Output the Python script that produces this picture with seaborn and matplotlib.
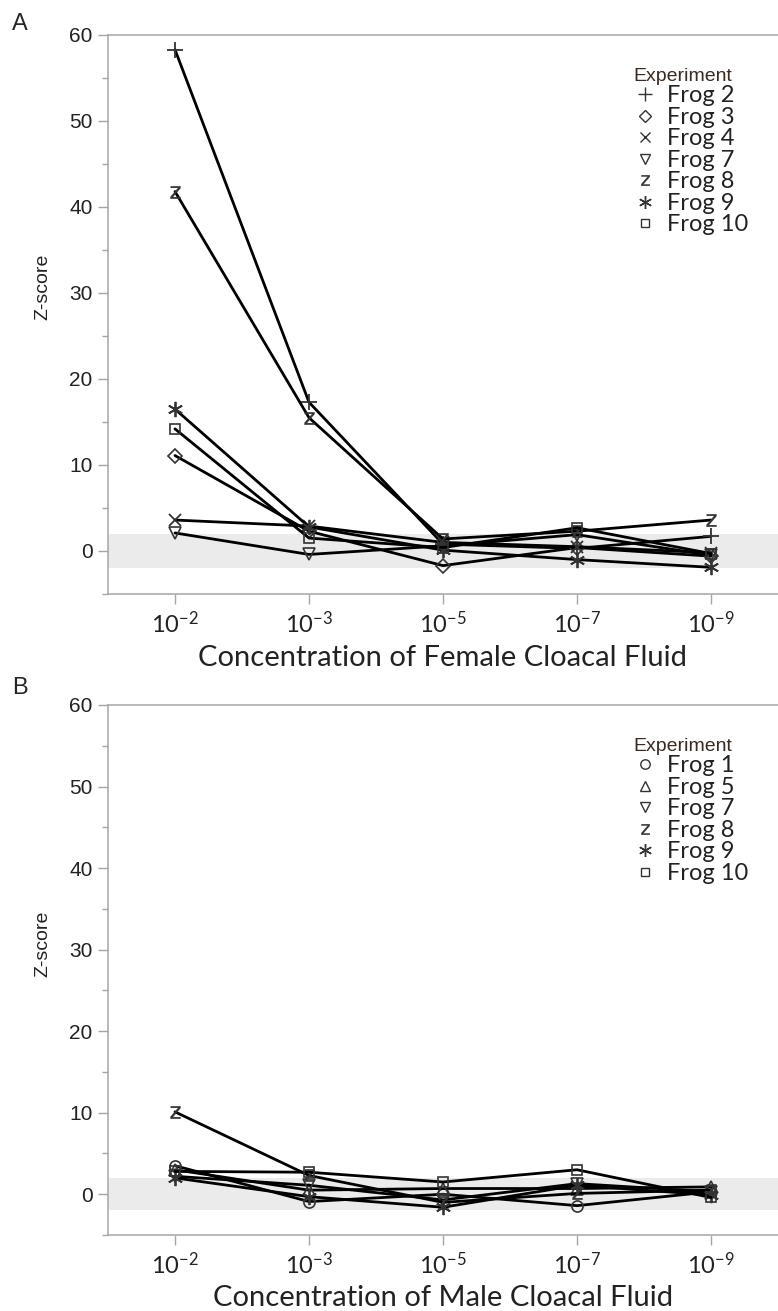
import numpy as np
import pandas as pd
import matplotlib
matplotlib.use("Agg")
import matplotlib.pyplot as plt
from matplotlib.lines import Line2D
from matplotlib.ticker import MultipleLocator
import seaborn as sns

sns.set_style("white")
plt.rcParams['font.family'] = ['Liberation Sans', 'DejaVu Sans']

# ---------------- data ----------------
conc_labels = ["10^{-2}", "10^{-3}", "10^{-5}", "10^{-7}", "10^{-9}"]

female_frogs = ["Frog 2", "Frog 3", "Frog 4", "Frog 7", "Frog 8", "Frog 9", "Frog 10"]
female_frog2 = [58.3, 17.3, 0.8, 0.3, 1.7]
female_frog3 = [11.1, 2.3, -1.7, 0.4, -0.6]
female_frog4 = [3.6, 2.9, 1.0, 0.5, -0.2]
female_frog7 = [2.1, -0.4, 0.6, 1.9, -0.5]
female_frog8 = [41.8, 15.5, 1.4, 2.3, 3.6]
female_frog9 = [16.5, 2.8, 0.1, -1.0, -1.9]
female_frog10 = [14.2, 1.5, 0.4, 2.7, -0.3]
female_values = [female_frog2, female_frog3, female_frog4, female_frog7,
                 female_frog8, female_frog9, female_frog10]

male_frogs = ["Frog 1", "Frog 5", "Frog 7", "Frog 8", "Frog 9", "Frog 10"]
male_frog1 = [3.5, -0.9, 0.0, -1.4, 0.3]
male_frog5 = [3.0, 0.5, 0.7, 0.7, 0.9]
male_frog7 = [2.2, 1.1, -0.7, 1.3, 0.3]
male_frog8 = [10.1, 2.3, -1.0, 0.1, 0.5]
male_frog9 = [2.0, -0.3, -1.6, 1.1, -0.1]
male_frog10 = [2.8, 2.7, 1.5, 3.0, -0.4]
male_values = [male_frog1, male_frog5, male_frog7, male_frog8, male_frog9, male_frog10]

band_limit = 1.96

# ---------------- styles ----------------
marker_map = {
    "Frog 1": "o", "Frog 2": "+", "Frog 3": "D", "Frog 4": "x", "Frog 5": "^",
    "Frog 7": "v", "Frog 8": r"$\mathsf{z}$", "Frog 9": (6, 2, 0), "Frog 10": "s",
}
size_map = {
    "Frog 1": 8, "Frog 2": 12, "Frog 3": 7, "Frog 4": 8, "Frog 5": 8,
    "Frog 7": 8, "Frog 8": 9, "Frog 9": 11, "Frog 10": 7.5,
}
HOLLOW = ("o", "D", "^", "v", "s")
MK = "#333333"
AX_GRAY = "#a6a6a6"
TXT = "#222222"
W, H = 778.0, 1311.0


def long_df(frogs, values):
    rows = []
    for f, vals in zip(frogs, values):
        for i, v in enumerate(vals):
            rows.append({"Experiment": f, "pos": i, "z": v})
    return pd.DataFrame(rows)


def draw_panel(ax, frogs, values, xlabel, labelpad, legend_top_px):
    ax.axhspan(-band_limit, band_limit, color="#ebebeb", zorder=0, lw=0)
    df = long_df(frogs, values)
    for f in frogs:
        sub = df[df["Experiment"] == f]
        m = marker_map[f]
        if m in HOLLOW:
            kw = dict(markerfacecolor="none", markeredgecolor=MK, markeredgewidth=1.2)
        elif isinstance(m, str) and m.startswith("$"):
            kw = dict(markerfacecolor=MK, markeredgecolor=MK, markeredgewidth=0.2)
        else:
            kw = dict(markerfacecolor=MK, markeredgecolor=MK, markeredgewidth=1.3)
        sns.lineplot(data=sub, x="pos", y="z", ax=ax, color="black", lw=2.0,
                     marker=m, markersize=size_map[f], legend=False,
                     errorbar=None, sort=False, **kw)
    ax.set_xlim(-0.5, 4.5)
    ax.set_ylim(-5, 60)
    ax.set_xticks(range(len(conc_labels)))
    ax.set_xticklabels([r"$\mathregular{" + c + "}$" for c in conc_labels],
                       fontsize=17, family="Lato", color=TXT)
    ax.yaxis.set_major_locator(MultipleLocator(10))
    ax.yaxis.set_minor_locator(MultipleLocator(5))
    for lab in ax.get_yticklabels():
        lab.set_fontsize(15)
        lab.set_color(TXT)
    ax.tick_params(axis="both", which="major", direction="out", length=7,
                   width=1, color=AX_GRAY, left=True, bottom=True)
    ax.tick_params(axis="y", which="minor", direction="out", length=4,
                   width=1, color=AX_GRAY, left=True)
    ax.tick_params(axis="x", pad=5)
    ax.tick_params(axis="y", pad=4)
    for s in ["left", "bottom", "top"]:
        ax.spines[s].set_visible(True)
        ax.spines[s].set_color(AX_GRAY)
        ax.spines[s].set_linewidth(1.1)
    ax.spines["right"].set_visible(False)
    ax.set_xlabel(xlabel, fontsize=21, family="Lato", color=TXT,
                  labelpad=labelpad)
    ax.set_ylabel("Z-score", fontsize=14, color=TXT)
    ax.yaxis.set_label_coords(-0.085, 0.55)

    handles = []
    for f in frogs:
        m = marker_map[f]
        fc = "none" if m in HOLLOW else MK
        ms = size_map[f] * 0.85
        handles.append(Line2D([], [], linestyle="none", marker=m, markersize=ms,
                              markerfacecolor=fc, markeredgecolor=MK,
                              markeredgewidth=1.0 if not str(m).startswith("$") else 0.2))
    leg = ax.legend(handles, frogs, title="Experiment", loc="upper left",
                    bbox_to_anchor=(633 / W, 1 - legend_top_px / H),
                    bbox_transform=ax.figure.transFigure, frameon=False,
                    prop={"family": "Lato", "size": 17},
                    title_fontproperties={"family": "Liberation Sans", "size": 14},
                    handlelength=1.0, handletextpad=0.45, labelspacing=0.02,
                    borderaxespad=0, borderpad=0)
    leg._legend_box.align = "left"
    leg.get_title().set_color("#3a2a20")
    for t in leg.get_texts():
        t.set_color(TXT)


fig = plt.figure(figsize=(7.78, 13.11), dpi=100)
left = 108 / W
axA = fig.add_axes([left, 1 - 594 / H, 1 - left, (594 - 35) / H])
axB = fig.add_axes([left, 1 - 1235 / H, 1 - left, (1235 - 705) / H])

draw_panel(axA, female_frogs, female_values,
           "Concentration of Female Cloacal Fluid", 6, 68)
draw_panel(axB, male_frogs, male_values,
           "Concentration of Male Cloacal Fluid", 5, 738)

fig.text(12 / W, 1 - 24 / H, "A", fontsize=17, va="center", ha="left")
fig.text(12 / W, 1 - 688 / H, "B", fontsize=17, va="center", ha="left")

fig.savefig("out.png", dpi=100)
